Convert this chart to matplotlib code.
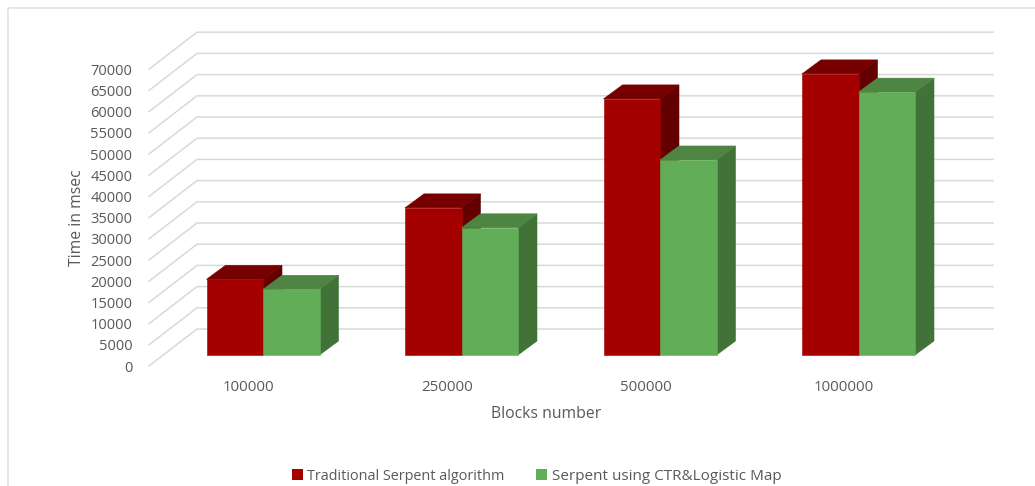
import matplotlib
matplotlib.use("Agg")
import matplotlib.pyplot as plt
from matplotlib.patches import Polygon, Patch
from matplotlib.lines import Line2D

categories = ["100000", "250000", "500000", "1000000"]
traditional = [17850, 34700, 60400, 66300]
ctr_logistic = [15500, 30000, 46000, 62000]
y_ticks = list(range(0, 75000, 5000))

W, H = 1035, 486
plt.rcParams["font.family"] = "Open Sans"
TEXT = "#595959"
GRID = "#D9D9D9"

fig = plt.figure(figsize=(W / 100, H / 100), dpi=100, facecolor="white")

# Outer chart frame: only the top and left edges stay inside the canvas
fig.add_artist(Line2D([8 / W, 8 / W, 1], [0, 1 - 8 / H, 1 - 8 / H], color="#E3E3E3", lw=1.2))

left, right, bottom, top = 149, 993, 366, 32
ax = fig.add_axes([left / W, 1 - bottom / H, (right - left) / W, (bottom - top) / H])

unit_px = 198.5            # pixels between neighbouring groups
value_px = 21.2 / 5000     # pixels per unit of time
center_px = 263.0          # pixel column of the first group's centre
ax.set_xlim((left - center_px) / unit_px, (right - center_px) / unit_px)
ax.set_ylim(0, (bottom - top) / value_px)

# Oblique projection of the floor and walls
wall_dx = 48 / unit_px
wall_dy = 37 / value_px
bar_front = 11 / 37        # depth of a bar's front face, as a fraction of the floor
bar_depth_x = 19 / unit_px
bar_depth_y = 14 / value_px
bar_width = 56.5 / unit_px
label_shift = 14.5 / unit_px   # category labels sit on the front edge of the floor
x_min, x_max = ax.get_xlim()

for v in y_ticks:
    ax.plot([x_min, x_min + wall_dx, x_max], [v, v + wall_dy, v + wall_dy],
            color=GRID, lw=1.1, zorder=1, clip_on=False, solid_joinstyle="miter")


def box(x0, value, front, top_c, side_c):
    """Draw one oblique 3D column whose front-left foot sits at x0."""
    base = bar_front * wall_dy
    x1 = x0 + bar_width
    y1 = base + value
    dx, dy = bar_depth_x, bar_depth_y
    ax.add_patch(Polygon([(x1, base), (x1 + dx, base + dy), (x1 + dx, y1 + dy), (x1, y1)],
                         fc=side_c, ec=side_c, lw=0.4, zorder=3))
    ax.add_patch(Polygon([(x0, y1), (x0 + dx, y1 + dy), (x1 + dx, y1 + dy), (x1, y1)],
                         fc=top_c, ec=top_c, lw=0.4, zorder=3))
    ax.add_patch(Polygon([(x0, base), (x1, base), (x1, y1), (x0, y1)],
                         fc=front, ec=front, lw=0.4, zorder=3))


for i in range(len(categories)):
    box(i - bar_width, traditional[i], "#A50000", "#760000", "#620000")
    box(i, ctr_logistic[i], "#62AE58", "#4F8543", "#417339")

ax.set_yticks(y_ticks)
ax.set_xticks([i - label_shift for i in range(len(categories))], categories)
ax.tick_params(axis="both", length=0, labelcolor=TEXT)
ax.tick_params(axis="y", pad=12, labelsize=10.5)
ax.tick_params(axis="x", pad=10, labelsize=10.8)
for spine in ax.spines.values():
    spine.set_visible(False)
ax.patch.set_alpha(0)

fig.text(546 / W, 1 - 414 / H, "Blocks number", ha="center", va="center", color=TEXT, fontsize=11.3)
fig.text(77 / W, 1 - 218 / H, "Time in msec", ha="center", va="center", rotation=90,
         color=TEXT, fontsize=11.3)

# Two legend entries placed independently along the bottom edge
legend_entries = [("Traditional Serpent algorithm", "#A50000", 279, 10.4),
                  ("Serpent using CTR&Logistic Map", "#62AE58", 522, 11.0)]
for label, colour, x_px, size in legend_entries:
    fig.legend(handles=[Patch(fc=colour, label=label)],
               loc="center left", bbox_to_anchor=(x_px / W, 1 - 476 / H), frameon=False,
               fontsize=size, labelcolor=TEXT, handlelength=0.75, handleheight=0.75,
               handletextpad=0.3)

fig.savefig("out.png", dpi=100)
